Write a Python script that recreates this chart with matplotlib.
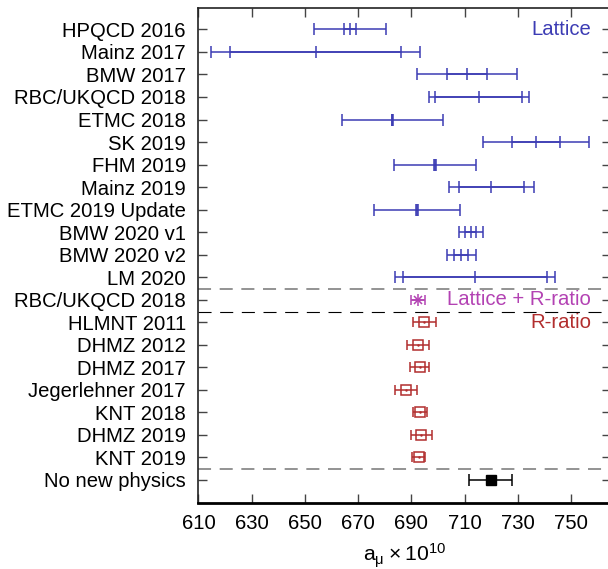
import matplotlib
matplotlib.use("Agg")
import matplotlib.pyplot as plt

plt.rcParams['font.family'] = ['Liberation Sans', 'DejaVu Sans']
plt.rcParams['lines.scale_dashes'] = False

# ---------------- data ----------------
labels = ["HPQCD 2016", "Mainz 2017", "BMW 2017", "RBC/UKQCD 2018", "ETMC 2018",
          "SK 2019", "FHM 2019", "Mainz 2019", "ETMC 2019 Update", "BMW 2020 v1",
          "BMW 2020 v2", "LM 2020", "RBC/UKQCD 2018", "HLMNT 2011", "DHMZ 2012",
          "DHMZ 2017", "Jegerlehner 2017", "KNT 2018", "DHMZ 2019", "KNT 2019",
          "No new physics"]

lattice_center = [667.0, 654.0, 710.9, 715.3, 682.9, 736.9, 698.9, 720.0, 692.0, 712.3, 708.7, 713.9]
lattice_inner = [2.35, 32.0, 7.5, 16.3, 0.35, 9.0, 0.35, 12.2, 0.35, 2.0, 2.75, 27.0]
lattice_outer = [13.45, 39.4, 18.9, 18.8, 19.0, 20.0, 15.25, 15.9, 16.2, 4.5, 5.4, 29.95]

combined_center = [692.5]
combined_err = [2.75]

rratio_center = [694.9, 692.4, 693.1, 688.0, 693.3, 693.8, 692.8]
rratio_err = [4.4, 4.2, 3.5, 4.2, 2.5, 4.0, 2.5]

nonew_center = [719.8]
nonew_err = [8.0]

xticks = [610, 630, 650, 670, 690, 710, 730, 750]

# ---------------- style ----------------
blue = '#3c3cb4'
magenta = '#b342b3'
red = '#b22e2e'
fs = 14.6

n = len(labels)
ypos = [n - i for i in range(n)]   # top row = 21, bottom = 1

fig = plt.figure(figsize=(6.08, 5.69), dpi=100)
ax = fig.add_axes([198.4 / 608, (569 - 502.7) / 569, (611 - 198.4) / 608, (502.7 - 8) / 569])

# lattice results
for i in range(len(lattice_center)):
    y = ypos[i]
    c = lattice_center[i]
    ax.errorbar([c], [y], xerr=[[lattice_outer[i]], [lattice_outer[i]]], fmt='none',
                ecolor=blue, elinewidth=1.1, capsize=4.5, capthick=1.1)
    ax.errorbar([c], [y], xerr=[[lattice_inner[i]], [lattice_inner[i]]], fmt='none',
                ecolor=blue, elinewidth=1.1, capsize=4.5, capthick=1.1)
    ax.plot([c], [y], marker='|', color=blue, markersize=9, markeredgewidth=1.1, linestyle='none')

# lattice + R-ratio
k = len(lattice_center)
for j in range(len(combined_center)):
    y = ypos[k + j]
    ax.errorbar(combined_center[j], y, xerr=combined_err[j], fmt='none', ecolor=magenta,
                elinewidth=1.1, capsize=3.5, capthick=1.1)
    ax.plot(combined_center[j], y, marker='+', color=magenta, markersize=8, markeredgewidth=1.1, linestyle='none')
    ax.plot(combined_center[j], y, marker='x', color=magenta, markersize=5.5, markeredgewidth=1.1, linestyle='none')

# R-ratio
k2 = k + len(combined_center)
for j in range(len(rratio_center)):
    y = ypos[k2 + j]
    ax.errorbar(rratio_center[j], y, xerr=rratio_err[j], fmt='none', ecolor=red,
                elinewidth=1.1, capsize=3.5, capthick=1.1)
    ax.plot(rratio_center[j], y, marker='s', markerfacecolor='none', markeredgecolor=red,
            markersize=6.5, markeredgewidth=1.1, linestyle='none')
    ax.plot(rratio_center[j], y, marker='.', color=red, markersize=1.5, linestyle='none')

# no new physics
y = ypos[-1]
ax.errorbar(nonew_center, [y], xerr=nonew_err, fmt='none', ecolor='black',
            elinewidth=1.1, capsize=4, capthick=1.1)
ax.plot(nonew_center, [y], marker='s', color='black', markersize=7.5, linestyle='none')

# separators
ax.axhline(9.47, color='#808080', linewidth=1.2, linestyle=(0, (9.4, 6.2)))
ax.axhline(8.47, color='black', linewidth=0.8, linestyle=(0, (9.4, 6.2)))
ax.axhline(1.49, color='#808080', linewidth=1.2, linestyle=(0, (9.4, 6.2)))

# annotations
ax.text(757.6, ypos[0], "Lattice", color=blue, fontsize=fs, ha='right', va='center')
ax.text(757.6, ypos[12], "Lattice + R-ratio", color=magenta, fontsize=fs, ha='right', va='center')
ax.text(757.6, ypos[13], "R-ratio", color=red, fontsize=fs, ha='right', va='center')

# axes
ax.set_xlim(610, 765)
ax.set_ylim(-0.01, 21.95)
ax.set_yticks(ypos)
ax.set_yticklabels(labels, fontsize=fs)
ax.set_xticks(xticks)
ax.set_xticklabels([str(t) for t in xticks], fontsize=fs)
ax.tick_params(axis='both', direction='in', length=6.5, width=1.0, color='#444444',
               top=True, right=True)
ax.tick_params(axis='y', pad=9)
ax.tick_params(axis='x', pad=8)
for s in ['left', 'top', 'right']:
    ax.spines[s].set_linewidth(1.2)
    ax.spines[s].set_color('#222222')
ax.spines['bottom'].set_linewidth(2.0)
ax.spines['bottom'].set_color('black')

ax.set_xlabel(r'$\mathregular{a_{\mu} \times 10^{10}}$', fontsize=fs + 0.6, labelpad=6)

fig.savefig("out.png", dpi=100)
